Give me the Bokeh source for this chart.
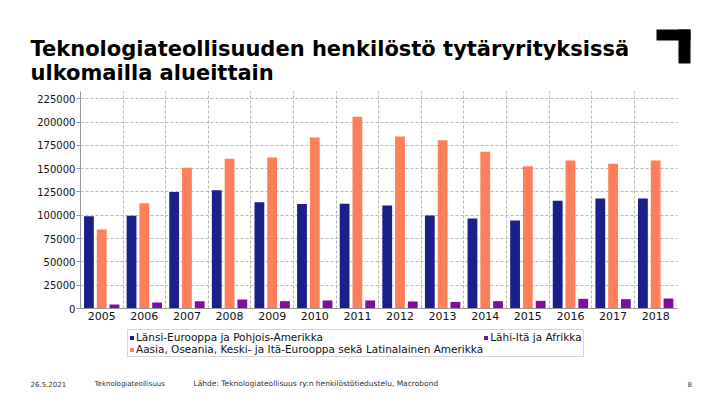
from bokeh.plotting import figure
from bokeh.models import (Range1d, FixedTicker, NumeralTickFormatter, LinearAxis, Grid,
                          Legend, LegendItem, Label, BoxAnnotation, ColumnDataSource)
from bokeh.transform import dodge
from bokeh.embed import file_html
from bokeh.resources import INLINE

years = ["2005", "2006", "2007", "2008", "2009", "2010", "2011", "2012",
         "2013", "2014", "2015", "2016", "2017", "2018"]
west = [99000, 99500, 125000, 127000, 114000, 112000, 112500, 110500,
        99800, 96500, 94500, 115700, 118000, 118000]
asia = [84800, 113000, 151000, 160700, 162000, 183600, 205700, 184600,
        180400, 168200, 152500, 158900, 155400, 158900]
mideast = [4300, 6400, 7900, 9600, 7900, 8600, 8600, 7500,
           7100, 7900, 8200, 10400, 10000, 10700]
y_ticks = [0, 25000, 50000, 75000, 100000, 125000, 150000, 175000, 200000, 225000]
y_top = 232500
series_names = ["Länsi-Eurooppa ja Pohjois-Amerikka",
                "Aasia, Oseania, Keski- ja Itä-Eurooppa sekä Latinalainen Amerikka",
                "Lähi-Itä ja Afrikka"]
title_lines = ["Teknologiateollisuuden henkilöstö tytäryrityksissä", "ulkomailla alueittain"]
footer_texts = ["26.5.2021", "Teknologiateollisuus",
                "Lähde: Teknologiateollisuus ry:n henkilöstötiedustelu, Macrobond", "8"]
colors = ["#1b1f8a", "#ff7f5a", "#7d0f9e"]

# canvas geometry (pixels)
W, H = 704, 389
PL, PR = 79.9, 676.5      # plot area left / right
PB, PT = 308.0, 91.3      # plot area bottom / top (from canvas top)

n = len(years)
kx = n / (PR - PL)
ky = y_top / (PB - PT)
xr = Range1d(-PL * kx, n + (W - PR) * kx)
yr = Range1d(-(H - PB) * ky, y_top + PT * ky)

p = figure(width=W, height=H, output_backend="svg", toolbar_location=None,
           x_range=xr, y_range=yr, x_axis_type=None, y_axis_type=None,
           min_border=0)
p.outline_line_color = None
p.title.visible = False

xs = [i + 0.5 for i in range(n)]
src = ColumnDataSource(dict(x=xs, west=west, asia=asia, mideast=mideast))

# grids
p.add_layout(Grid(dimension=0, ticker=FixedTicker(ticks=list(range(1, n))),
                  cross_bounds=(0, y_top), grid_line_color="#b8b8b8",
                  grid_line_dash="3 2"))
p.add_layout(Grid(dimension=1, ticker=FixedTicker(ticks=y_ticks[1:]),
                  cross_bounds=(0, n), grid_line_color="#b8b8b8",
                  grid_line_dash="3 2"))

r1 = p.vbar(x=dodge("x", -0.3), top="west", width=0.23, source=src, color=colors[0], line_color=None)
r2 = p.vbar(x=dodge("x", 0.0), top="asia", width=0.23, source=src, color=colors[1], line_color=None)
r3 = p.vbar(x=dodge("x", 0.3), top="mideast", width=0.23, source=src, color=colors[2], line_color=None)

# axes fixed inside the full-canvas frame
xaxis = LinearAxis(fixed_location=0, bounds=(0, n), ticker=FixedTicker(ticks=xs),
                   major_label_overrides={x: y for x, y in zip(xs, years)},
                   major_tick_line_color=None, minor_tick_line_color=None,
                   major_tick_out=0, major_tick_in=0,
                   axis_line_color="#999999", major_label_text_font="DejaVu Sans",
                   major_label_text_font_size="11px", major_label_text_color="#111111",
                   major_label_standoff=3)
p.add_layout(xaxis, "below")
yaxis = LinearAxis(fixed_location=0, bounds=(0, y_top), ticker=FixedTicker(ticks=y_ticks),
                   formatter=NumeralTickFormatter(format="0"),
                   axis_line_color="#999999", major_tick_line_color="#999999",
                   major_tick_out=4, major_tick_in=0, minor_tick_line_color=None,
                   major_label_text_font="DejaVu Sans", major_label_text_font_size="10px",
                   major_label_text_color="#111111", major_label_standoff=1)
p.add_layout(yaxis, "left")

# legend (column-major fill: col 1 = first two items)
legend = Legend(items=[LegendItem(label=series_names[0], renderers=[r1]),
                       LegendItem(label=series_names[1], renderers=[r2]),
                       LegendItem(label=series_names[2], renderers=[r3])],
                ncols=2, location=(127, H - 357), margin=0, padding=1, spacing=0,
                glyph_width=5, glyph_height=5, label_standoff=2,
                label_text_font="DejaVu Sans", label_text_font_size="10.5px",
                label_height=11, border_line_color="#b0b0b0",
                label_text_color="#111111")
p.add_layout(legend, "center")

# title (screen units: x from left, y up from bottom of canvas)
for txt, base in zip(title_lines, [48, 72]):
    p.add_layout(Label(x=30, y=H - base, x_units="screen", y_units="screen",
                       text=txt, text_font="DejaVu Sans", text_font_style="bold",
                       text_font_size="21px", text_color="#000000",
                       text_baseline="alphabetic"))

# logo
p.add_layout(BoxAnnotation(left=656, right=690, top=H - 29, bottom=H - 40,
                           left_units="screen", right_units="screen",
                           top_units="screen", bottom_units="screen",
                           fill_color="black", fill_alpha=1, line_color=None))
p.add_layout(BoxAnnotation(left=678, right=690, top=H - 29, bottom=H - 63,
                           left_units="screen", right_units="screen",
                           top_units="screen", bottom_units="screen",
                           fill_color="black", fill_alpha=1, line_color=None))

# footer
for txt, cx, fs in zip(footer_texts, [30, 94, 193, 687], ["7px", "7px", "7.5px", "7px"]):
    p.add_layout(Label(x=cx, y=H - 383, x_units="screen", y_units="screen",
                       text=txt, text_font="DejaVu Sans", text_font_size=fs,
                       text_color="#333333", text_baseline="alphabetic"))

open("out.html", "w").write(file_html(p, INLINE))
